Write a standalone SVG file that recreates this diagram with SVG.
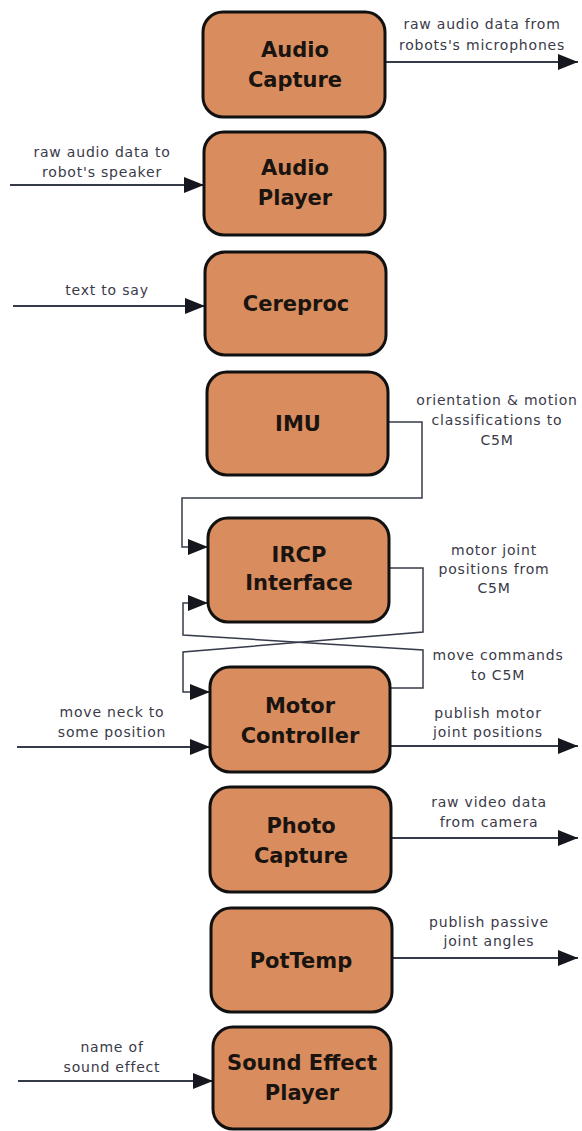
<svg xmlns="http://www.w3.org/2000/svg" width="582" height="1131" viewBox="0 0 582 1131">
<style>
.box{fill:#d98c5d;stroke:#111;stroke-width:3}
.nt{font-family:"DejaVu Sans",sans-serif;font-weight:bold;font-size:21px;fill:#1a1410;text-anchor:middle}
.el{font-family:"DejaVu Sans",sans-serif;font-size:14px;letter-spacing:0.8px;fill:#3a3a48;text-anchor:middle}
.ln{fill:none;stroke:#363b4a;stroke-width:2}
.ln2{fill:none;stroke:#363b4a;stroke-width:1.5}
</style>
<defs>
<marker id="ah" markerUnits="userSpaceOnUse" viewBox="0 0 20 16" refX="20" refY="8" markerWidth="20" markerHeight="16" orient="auto">
<path d="M0,0 L20,8 L0,16 Z" fill="#15161e"/>
</marker>
</defs>
<rect width="582" height="1131" fill="#fff"/>
<g id="connectors">
<path class="ln" d="M385,62 H578" marker-end="url(#ah)"/>
<path class="ln" d="M10,185 H204" marker-end="url(#ah)"/>
<path class="ln" d="M13,306 H205" marker-end="url(#ah)"/>
<path class="ln2" d="M388,422 H422 V498 H182 V547 H208" marker-end="url(#ah)"/>
<path class="ln2" d="M389,568 H423 V632 L183,652 V692 H210" marker-end="url(#ah)"/>
<path class="ln2" d="M390,688 H423 V650 L183,635 V603 H208" marker-end="url(#ah)"/>
<path class="ln" d="M390,746 H578" marker-end="url(#ah)"/>
<path class="ln" d="M17,747 H210" marker-end="url(#ah)"/>
<path class="ln" d="M391,838 H578" marker-end="url(#ah)"/>
<path class="ln" d="M392,958 H578" marker-end="url(#ah)"/>
<path class="ln" d="M18,1081 H213" marker-end="url(#ah)"/>
<text class="el" x="482" y="29">raw audio data from</text>
<text class="el" x="482" y="50">robots's microphones</text>
<text class="el" x="102" y="157">raw audio data to</text>
<text class="el" x="102" y="177">robot's speaker</text>
<text class="el" x="107" y="295">text to say</text>
<text class="el" x="497" y="405">orientation &amp; motion</text>
<text class="el" x="497" y="425">classifications to</text>
<text class="el" x="497" y="445">C5M</text>
<text class="el" x="494" y="555">motor joint</text>
<text class="el" x="494" y="574">positions from</text>
<text class="el" x="494" y="593">C5M</text>
<text class="el" x="498" y="660">move commands</text>
<text class="el" x="498" y="680">to C5M</text>
<text class="el" x="488" y="718">publish motor</text>
<text class="el" x="488" y="737">joint positions</text>
<text class="el" x="112" y="717">move neck to</text>
<text class="el" x="112" y="737">some position</text>
<text class="el" x="489" y="807">raw video data</text>
<text class="el" x="489" y="827">from camera</text>
<text class="el" x="489" y="927">publish passive</text>
<text class="el" x="489" y="946">joint angles</text>
<text class="el" x="112" y="1052">name of</text>
<text class="el" x="112" y="1072">sound effect</text>
</g>
<g id="audio-capture"><rect class="box" x="203" y="12" width="182" height="105" rx="20"/><text class="nt" x="295" y="57">Audio</text><text class="nt" x="295" y="87">Capture</text></g>
<g id="audio-player"><rect class="box" x="204" y="132" width="181" height="103" rx="20"/><text class="nt" x="295" y="175">Audio</text><text class="nt" x="295" y="205">Player</text></g>
<g id="cereproc"><rect class="box" x="205" y="252" width="181" height="103" rx="20"/><text class="nt" x="296" y="311">Cereproc</text></g>
<g id="imu"><rect class="box" x="207" y="372" width="181" height="103" rx="20"/><text class="nt" x="298" y="431">IMU</text></g>
<g id="ircp-interface"><rect class="box" x="208" y="518" width="181" height="104" rx="20"/><text class="nt" x="299" y="562">IRCP</text><text class="nt" x="299" y="590">Interface</text></g>
<g id="motor-controller"><rect class="box" x="210" y="667" width="180" height="105" rx="20"/><text class="nt" x="300" y="713">Motor</text><text class="nt" x="300" y="743">Controller</text></g>
<g id="photo-capture"><rect class="box" x="210" y="787" width="181" height="105" rx="20"/><text class="nt" x="301" y="833">Photo</text><text class="nt" x="301" y="863">Capture</text></g>
<g id="pottemp"><rect class="box" x="211" y="908" width="181" height="104" rx="20"/><text class="nt" x="301" y="968">PotTemp</text></g>
<g id="sound-effect-player"><rect class="box" x="213" y="1027" width="178" height="102" rx="20"/><text class="nt" x="302" y="1070">Sound Effect</text><text class="nt" x="302" y="1100">Player</text></g>
</svg>
